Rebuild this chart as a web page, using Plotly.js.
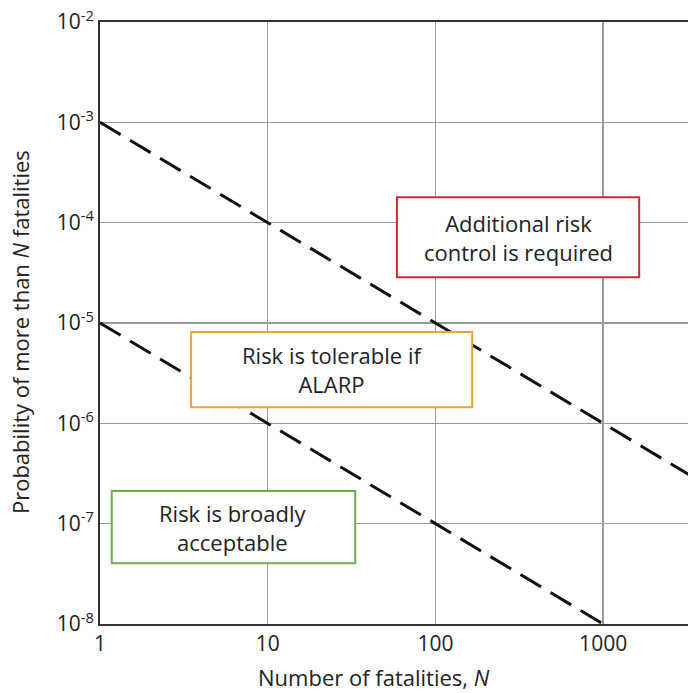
<!DOCTYPE html>
<html>
<head>
<meta charset="utf-8">
<script src="https://cdn.plot.ly/plotly-3.0.1.min.js"></script>
<style>html,body{margin:0;padding:0;background:#fff;}#chart{width:688px;height:693px;}</style>
</head>
<body>
<div id="chart"></div>
<script>
// Data
const upperN = [1, 10, 100, 1000, 10000];
const upperP = [1e-3, 1e-4, 1e-5, 1e-6, 1e-7];
const lowerN = [1, 10, 100, 1000];
const lowerP = [1e-5, 1e-6, 1e-7, 1e-8];
const xTickVals = [1, 10, 100, 1000];
const xTickText = ['1', '10', '100', '1000'];
const yTickVals = [1e-8, 1e-7, 1e-6, 1e-5, 1e-4, 1e-3, 1e-2];
const yTickText = ['10<sup>-8</sup>', '10<sup>-7</sup>', '10<sup>-6</sup>', '10<sup>-5</sup>', '10<sup>-4</sup>', '10<sup>-3</sup>', '10<sup>-2</sup>'];
const regionLabels = ['Additional risk<br>control is required', 'Risk is tolerable if<br>ALARP', 'Risk is broadly<br>acceptable'];
const xTitle = 'Number of fatalities, <i>N</i>';
const yTitle = 'Probability of more than <i>N</i> fatalities';

const FONT = 'Open Sans, Noto Sans, sans-serif';
const lineStyle = {color: '#111', width: 3, dash: '24px,11px'};

const traces = [
  {x: upperN, y: upperP, mode: 'lines', line: lineStyle, hoverinfo: 'skip', showlegend: false},
  {x: lowerN, y: lowerP, mode: 'lines', line: lineStyle, hoverinfo: 'skip', showlegend: false}
];

const boxes = [
  {x0: 0.505, x1: 0.917, y0: 0.576, y1: 0.709, color: '#d42a35'},
  {x0: 0.155, x1: 0.633, y0: 0.360, y1: 0.485, color: '#e9a43c'},
  {x0: 0.020, x1: 0.434, y0: 0.101, y1: 0.221, color: '#6cb04a'}
];

const shapes = boxes.map(b => ({
  type: 'rect', xref: 'paper', yref: 'paper', x0: b.x0, x1: b.x1, y0: b.y0, y1: b.y1,
  line: {color: b.color, width: 2}, fillcolor: '#ffffff', layer: 'above'
}));

const annotations = boxes.map((b, i) => ({
  xref: 'paper', yref: 'paper', x: (b.x0 + b.x1) / 2, y: (b.y0 + b.y1) / 2,
  text: regionLabels[i], showarrow: false, xanchor: 'center', yanchor: 'middle',
  font: {family: FONT, size: 22, color: '#222'}
}));
annotations.push({
  xref: 'paper', yref: 'paper', x: 0.466, y: -0.088, text: xTitle, showarrow: false,
  xanchor: 'center', yanchor: 'middle', borderpad: 0, font: {family: FONT, size: 22, color: '#222'}
});
annotations.push({
  xref: 'paper', yref: 'paper', x: -0.136, y: 0.485, text: yTitle, showarrow: false, textangle: -90,
  xanchor: 'center', yanchor: 'middle', font: {family: FONT, size: 22, color: '#222'}
});

const layout = {
  width: 688, height: 693,
  margin: {l: 100, r: 0, t: 22, b: 69},
  paper_bgcolor: '#fff', plot_bgcolor: '#fff',
  font: {family: FONT, color: '#222'},
  xaxis: {
    type: 'log', range: [0, 3.506],
    tickvals: xTickVals, ticktext: xTickText,
    showgrid: true, gridcolor: '#999999', gridwidth: 1.5,
    showline: true, linecolor: '#333', linewidth: 2, mirror: true,
    ticks: '', tickfont: {family: FONT, size: 21, color: '#222'},
    zeroline: false
  },
  yaxis: {
    type: 'log', range: [-8, -2],
    tickvals: yTickVals, ticktext: yTickText,
    showgrid: true, gridcolor: '#999999', gridwidth: 1.5,
    showline: true, linecolor: '#333', linewidth: 2,
    ticks: '', tickfont: {family: FONT, size: 21, color: '#222'},
    zeroline: false
  },
  shapes: shapes,
  annotations: annotations,
  showlegend: false
};

Plotly.newPlot('chart', traces, layout, {displayModeBar: false, staticPlot: true});
</script>
</body>
</html>
